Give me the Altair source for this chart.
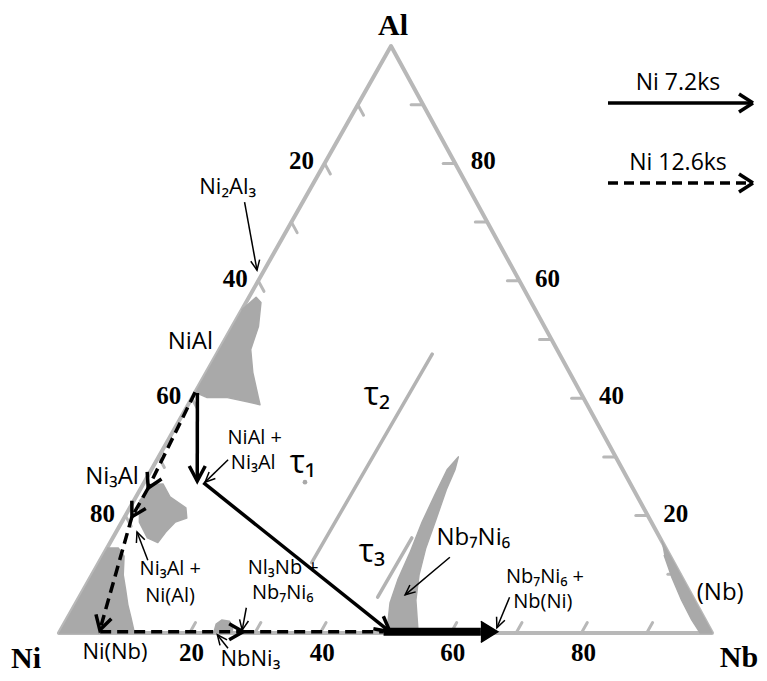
import altair as alt
import numpy as np
import pandas as pd

# ---------------- data: compositions in at.% Nb, at.% Al (Ni = balance) ----------------
niAl_nb = [0, 1.1, 2.3, 4.0, 4.8, 7.1, 10.0, 11.0, 8.8, 5.4, 2.3, 0]
niAl_al = [55, 57.2, 56.3, 52.2, 48.3, 44.4, 40.3, 38.9, 39.4, 40.1, 40.1, 41]
ni3Al_nb = [1.1, 3.0, 5.2, 8.6, 9.6, 8.2, 7.6, 7.3, 5.3, 2.7, 0.8]
ni3Al_al = [25.3, 25.4, 23.2, 21.3, 19.6, 18.9, 17.2, 15.4, 16.2, 18.9, 22.7]
niss_nb = [0, 1.7, 3.3, 4.8, 6.5, 8.1, 9.7, 11.2, 11.5, 0]
niss_al = [14.5, 14.5, 13.1, 9.9, 7.3, 4.8, 2.6, 0.5, 0, 0]
nbni3_nb = [23.7, 23.3, 23.8, 25.1, 26.1, 26.5]
nbni3_al = [0, 1.5, 2.2, 2.0, 1.0, 0]
nb7ni6_nb = [50.2, 48.1, 47.3, 46.8, 46.0, 45.6, 45.3, 45.9, 46.5, 46.9, 47.9, 48.8, 50.1, 51.8, 55.0]
nb7ni6_al = [0, 5.1, 9.0, 13.6, 18.9, 23.5, 27.8, 30.0, 27.8, 24.4, 19.3, 14.5, 9.9, 5.6, 0]
nbss_nb = [84.2, 100, 98.2, 95.8, 92.5, 89.1, 85.9]
nbss_al = [15.8, 0, 0, 2.2, 5.6, 9.4, 13.3]
tau2_nb = [32.6, 33.0]
tau2_al = [12.0, 47.5]
tau3_nb = [45.7, 45.8]
tau3_al = [6.1, 16.2]
tau1_nb = [24.6]
tau1_al = [25.7]

# diffusion path, Ni 7.2 ks (solid)
p72_vert_nb = [0.4, 8.0]
p72_vert_al = [40.9, 25.9]
p72_diag_nb = [9.1, 50.6]
p72_diag_al = [25.6, 0.2]
p72_thick_nb = [49.6, 64.5, 67.1]   # start, arrow base, arrow tip
p72_thick_al = [0.2, 0.2, 0.2]
# diffusion path, Ni 12.6 ks (dashed)
p126_a_nb = [0, 1.1, 1.1, 6.0]
p126_a_al = [41, 24.7, 19.8, 0.5]
p126_b_nb = [6.2, 28.1, 49.6]
p126_b_al = [0.2, 0.2, 0.2]

# annotation pointers (tail -> tip)
ptr_tail_nb = [-8.9, 10.9, 7.3, 26.5, 27.2, 53.3, 65.9]
ptr_tail_al = [73.4, 29.5, 12.4, 4.3, -2.6, 12.9, 6.1]
ptr_tip_nb = [-1.1, 9.3, 3.2, 27.8, 24.4, 49.7, 66.6]
ptr_tip_al = [61.8, 25.7, 17.2, 0.5, -0.3, 6.5, 0.9]

lab_text = ["Ni₂Al₃", "NiAl", "NiAl +", "Ni₃Al", "Ni₃Al", "Ni₃Al +", "Ni(Al)",
            "Nl₃Nb +", "Nb₇Ni₆", "Ni(Nb)", "NbNi₃", "Nb₇Ni₆", "Nb₇Ni₆ +", "Nb(Ni)", "(Nb)"]
lab_nb = [-12.8, -5.1, 13.1, 15.0, -5.4, 11.5, 13.8, 28.7, 30.8, 10.2, 31.6, 55.2, 69.6, 71.4, 97.8]
lab_al = [76.0, 49.6, 33.2, 29.0, 26.6, 10.9, 6.3, 11.1, 6.8, -3.2, -4.5, 16.2, 9.5, 5.3, 6.8]
lab_size = ["m", "b", "s", "s", "b", "s", "s", "s", "s", "m", "m", "b", "s", "s", "b"]

tau_text = ["τ₁", "τ₂", "τ₃"]
tau_nb = [22.6, 28.1, 40.9]
tau_al = [29.0, 40.5, 13.8]

tick_vals = [10, 20, 30, 40, 50, 60, 70, 80, 90]
tick_labels = [20, 40, 60, 80]
vertex_names = ["Ni", "Nb", "Al"]

# ---------------- layout ----------------
NI_V = np.array([59.0, 633.0])
NB_V = np.array([712.0, 633.0])
AL_V = np.array([391.0, 46.0])
W, H = 751, 665
EDGE = "#b8b8b8"
REG = "#a9a9a9"
SANS = "Open Sans"
SERIF = "Liberation Serif"


def tern(nb, al):
    nb = np.asarray(nb, float) / 100.0
    al = np.asarray(al, float) / 100.0
    x = NI_V[0] + nb * (NB_V[0] - NI_V[0]) + al * (AL_V[0] - NI_V[0])
    y = NI_V[1] + al * (AL_V[1] - NI_V[1])
    return x, y


def unit(v):
    v = np.asarray(v, float)
    return v / np.linalg.norm(v)


def poly_rows(name, xs, ys):
    return [{"x": float(a), "y": float(b), "g": name, "o": i} for i, (a, b) in enumerate(zip(xs, ys))]


def head_rows(name, tail, tip, L, w):
    tail = np.asarray(tail, float)
    tip = np.asarray(tip, float)
    d = unit(tip - tail)
    n = np.array([-d[1], d[0]])
    b = tip - L * d
    pts = [b + w * n, tip, b - w * n]
    return poly_rows(name, [p[0] for p in pts], [p[1] for p in pts])


X = alt.X("x:Q", scale=alt.Scale(domain=[8, 8 + W], nice=False, zero=False), axis=None)
Y = alt.Y("y:Q", scale=alt.Scale(domain=[8 + H, 8], nice=False, zero=False), axis=None)


def lines(rows, **kw):
    return alt.Chart(pd.DataFrame(rows)).mark_line(**kw).encode(
        x=X, y=Y, detail="g:N", order="o:Q")


def texts(rows, **kw):
    return alt.Chart(pd.DataFrame(rows)).mark_text(**kw).encode(x=X, y=Y, text="t:N")


layers = []

# ---- triangle edges ----
ex, ey = tern([0, 100, 0, 0], [0, 0, 100, 0])
layers.append(lines(poly_rows("edge", ex, ey), stroke=EDGE, strokeWidth=4,
                    strokeJoin="round", strokeCap="round"))

# ---- ticks ----
tick_rows = []
TL = 12
for t in tick_vals:
    s = np.array(tern(t, 0)); e = s + TL * unit(AL_V - NI_V)
    tick_rows += poly_rows(f"b{t}", [s[0], e[0]], [s[1], e[1]])
    s = np.array(tern(100 - t, t)); e = s + TL * unit(NI_V - NB_V)
    tick_rows += poly_rows(f"r{t}", [s[0], e[0]], [s[1], e[1]])
    s = np.array(tern(0, 100 - t)); e = s + TL * unit(NB_V - AL_V)
    tick_rows += poly_rows(f"l{t}", [s[0], e[0]], [s[1], e[1]])
layers.append(lines(tick_rows, stroke=EDGE, strokeWidth=3, strokeCap="round"))

# ---- phase regions ----
reg_rows = []
for name, nb, al in [("NiAl", niAl_nb, niAl_al), ("Ni3Al", ni3Al_nb, ni3Al_al),
                     ("Niss", niss_nb, niss_al), ("NbNi3", nbni3_nb, nbni3_al),
                     ("Nb7Ni6", nb7ni6_nb, nb7ni6_al), ("Nbss", nbss_nb, nbss_al)]:
    x, y = tern(nb, al)
    reg_rows += poly_rows(name, x, y)
layers.append(lines(reg_rows, filled=True, fill=REG, stroke=REG, strokeWidth=1.5,
                    strokeJoin="round"))

tau_rows = []
for name, nb, al in [("t2", tau2_nb, tau2_al), ("t3", tau3_nb, tau3_al)]:
    x, y = tern(nb, al)
    tau_rows += poly_rows(name, x, y)
layers.append(lines(tau_rows, stroke="#b3b3b3", strokeWidth=3.5, strokeCap="round"))
tx, ty = tern(tau1_nb, tau1_al)
layers.append(alt.Chart(pd.DataFrame({"x": tx, "y": ty})).mark_circle(
    size=22, color="#a9a9a9", opacity=1).encode(x=X, y=Y))

# ---- Ni 7.2 ks path (solid) ----
solid_rows, solid_heads = [], []
for name, nb, al in [("v", p72_vert_nb, p72_vert_al), ("d", p72_diag_nb, p72_diag_al)]:
    x, y = tern(nb, al)
    solid_rows += poly_rows(name, x, y)
    solid_heads += head_rows(name + "h", (x[0], y[0]), (x[1], y[1]), 15, 8)
layers.append(lines(solid_rows, stroke="black", strokeWidth=3.5))
layers.append(lines(solid_heads, stroke="black", strokeWidth=3.5, strokeJoin="miter"))
kx, ky = tern(p72_thick_nb, p72_thick_al)
layers.append(lines(poly_rows("thick", kx[:2], ky[:2]), stroke="black", strokeWidth=8))
fh = [(kx[1], ky[1] - 10.5), (kx[2], ky[2]), (kx[1], ky[1] + 10.5)]
layers.append(lines(poly_rows("fh", [p[0] for p in fh], [p[1] for p in fh]),
                    filled=True, fill="black", stroke="black", strokeWidth=1.5))

# ---- Ni 12.6 ks path (dashed) ----
dash_rows, dash_heads = [], []
ax, ay = tern(p126_a_nb, p126_a_al)
for i in range(len(ax) - 1):
    dash_rows += poly_rows(f"a{i}", ax[i:i + 2], ay[i:i + 2])
    dash_heads += head_rows(f"ah{i}", (ax[i], ay[i]), (ax[i + 1], ay[i + 1]), 14, 8)
bx, by = tern(p126_b_nb, p126_b_al)
dash_rows += poly_rows("b0", bx[:2], by[:2])
dash_rows += poly_rows("b1", bx[1:], by[1:])
dash_heads += head_rows("bh0", (bx[0], by[0]), (bx[1], by[1]), 14, 8)
layers.append(lines(dash_rows, stroke="black", strokeWidth=3.5, strokeDash=[11, 6]))
layers.append(lines(dash_heads, stroke="black", strokeWidth=3.5))

# ---- thin pointers ----
ptr_rows, ptr_heads = [], []
px0, py0 = tern(ptr_tail_nb, ptr_tail_al)
px1, py1 = tern(ptr_tip_nb, ptr_tip_al)
for i in range(len(px0)):
    ptr_rows += poly_rows(f"p{i}", [px0[i], px1[i]], [py0[i], py1[i]])
    ptr_heads += head_rows(f"ph{i}", (px0[i], py0[i]), (px1[i], py1[i]), 10, 4.5)
layers.append(lines(ptr_rows, stroke="black", strokeWidth=1.5))
layers.append(lines(ptr_heads, stroke="black", strokeWidth=1.5))

# ---- labels ----
lx, ly = tern(lab_nb, lab_al)
sizes = {"b": 24, "m": 22, "s": 20}
for key, fs in sizes.items():
    rows = [{"x": lx[i], "y": ly[i], "t": lab_text[i]} for i in range(len(lab_text)) if lab_size[i] == key]
    layers.append(texts(rows, font=SANS, fontSize=fs, color="black", align="center", baseline="middle"))
ux, uy = tern(tau_nb, tau_al)
layers.append(texts([{"x": ux[i], "y": uy[i], "t": tau_text[i]} for i in range(3)],
                    font=SANS, fontSize=32, color="black", align="center", baseline="middle"))

# tick labels (bold serif)
tl_rows = []
for t in tick_labels:
    s = np.array(tern(t, 0)); tl_rows.append({"x": s[0] + 2, "y": s[1] + 20, "t": str(t)})
    s = np.array(tern(100 - t, t)); tl_rows.append({"x": s[0] + 28, "y": s[1] - 2, "t": str(t)})
    s = np.array(tern(0, 100 - t)); tl_rows.append({"x": s[0] - 23, "y": s[1] - 2, "t": str(t)})
layers.append(texts(tl_rows, font=SERIF, fontSize=25, fontWeight="bold", color="black",
                    align="center", baseline="middle"))

# vertex labels
vx, vy = tern([0, 100, 0], [0, 0, 100])
voff = [(-33, 26), (27, 25), (2, -20)]
layers.append(texts([{"x": vx[i] + voff[i][0], "y": vy[i] + voff[i][1], "t": vertex_names[i]} for i in range(3)],
                    font=SERIF, fontSize=30, fontWeight="bold", color="black",
                    align="center", baseline="middle"))

# ---- legend ----
one = pd.DataFrame({"a": [0]})


def rule(x1, y1, x2, y2, **kw):
    return alt.Chart(one).mark_rule(color="black", **kw).encode(
        x=alt.value(x1), y=alt.value(y1), x2=alt.value(x2), y2=alt.value(y2))


for ly_, dash, label in [(95, None, "Ni 7.2ks"), (175, [10, 6], "Ni 12.6ks")]:
    kw = {"strokeWidth": 3.5}
    if dash:
        kw["strokeDash"] = dash
    layers.append(rule(600, ly_, 743, ly_, **kw))
    layers.append(rule(745, ly_, 731, ly_ - 9, strokeWidth=3.5))
    layers.append(rule(745, ly_, 731, ly_ + 9, strokeWidth=3.5))
    layers.append(alt.Chart(one).mark_text(font=SANS, fontSize=23, color="black", align="center",
                                           baseline="middle").encode(
        x=alt.value(670), y=alt.value(ly_ - 20), text=alt.value(label)))

chart = alt.layer(*layers).properties(
    width=W, height=H, padding=0, autosize="none"
).configure_view(stroke=None)

chart.save("out.html", embed_options={"renderer": "svg", "actions": False})
